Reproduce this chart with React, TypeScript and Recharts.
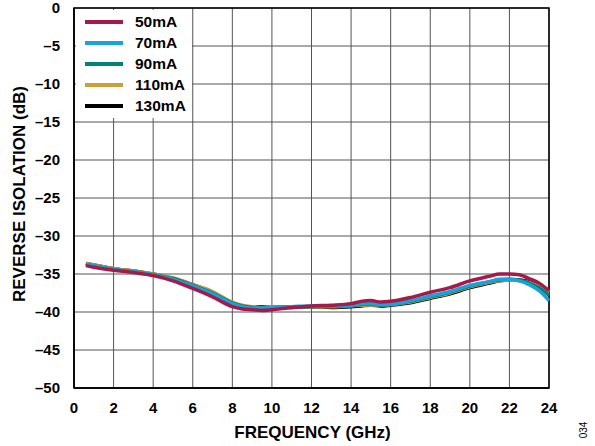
import { LineChart, Line, XAxis, YAxis, CartesianGrid, ReferenceArea } from "recharts";

const freqs = [0.6, 1, 2, 3, 4, 5, 6, 7, 8, 8.5, 9, 9.5, 10, 11, 12, 13, 14, 14.5, 15, 15.5, 16, 17, 18, 19, 20, 21, 21.5, 22, 22.5, 23, 23.5, 24];

const ma50 = [-33.9, -34.1, -34.5, -34.8, -35.2, -35.9, -36.9, -38.0, -39.3, -39.6, -39.7, -39.8, -39.7, -39.4, -39.2, -39.1, -38.9, -38.6, -38.5, -38.7, -38.6, -38.1, -37.4, -36.8, -35.9, -35.3, -35.0, -35.0, -35.1, -35.6, -36.2, -37.2];
const ma70 = [-33.7, -33.9, -34.4, -34.7, -35.1, -35.7, -36.6, -37.6, -38.9, -39.3, -39.5, -39.5, -39.4, -39.3, -39.2, -39.2, -39.1, -38.9, -38.9, -39.0, -39.0, -38.5, -37.9, -37.3, -36.5, -36.0, -35.7, -35.7, -35.9, -36.4, -37.2, -38.5];
const ma90 = [-33.7, -33.9, -34.4, -34.7, -35.1, -35.6, -36.5, -37.5, -38.8, -39.2, -39.4, -39.5, -39.4, -39.3, -39.3, -39.2, -39.2, -39.0, -39.0, -39.1, -39.0, -38.6, -38.0, -37.4, -36.6, -36.0, -35.8, -35.7, -35.8, -36.2, -36.8, -37.8];
const ma110 = [-33.6, -33.8, -34.3, -34.6, -35.0, -35.5, -36.4, -37.3, -38.7, -39.1, -39.3, -39.4, -39.3, -39.3, -39.3, -39.3, -39.2, -39.1, -39.1, -39.1, -39.0, -38.7, -38.1, -37.5, -36.7, -36.1, -35.9, -35.8, -35.9, -36.1, -36.6, -37.4];
const ma130 = [-33.6, -33.8, -34.3, -34.6, -35.0, -35.6, -36.4, -37.4, -38.8, -39.2, -39.4, -39.3, -39.3, -39.4, -39.3, -39.4, -39.3, -39.2, -39.1, -39.2, -39.1, -38.8, -38.2, -37.6, -36.8, -36.2, -35.9, -35.8, -35.8, -36.0, -36.5, -37.2];

const xTicks = [0, 2, 4, 6, 8, 10, 12, 14, 16, 18, 20, 22, 24];
const yTicks = [0, -5, -10, -15, -20, -25, -30, -35, -40, -45, -50];

const series = [
  { key: "ma50", name: "50mA", color: "#A6194B", values: ma50 },
  { key: "ma70", name: "70mA", color: "#1BA1DB", values: ma70 },
  { key: "ma90", name: "90mA", color: "#00817A", values: ma90 },
  { key: "ma110", name: "110mA", color: "#C9A03A", values: ma110 },
  { key: "ma130", name: "130mA", color: "#000000", values: ma130 },
];

const data = freqs.map((f, i) => {
  const row: Record<string, number> = { f };
  series.forEach((s) => (row[s.key] = s.values[i]));
  return row;
});

const font = "'Liberation Sans', Arial, sans-serif";
const fmtY = (v: number) => (v < 0 ? `\u2013${Math.abs(v)}` : `${v}`);

export default function App() {
  return (
    <div style={{ position: "absolute", left: 0, top: 0, width: 595, height: 446, background: "#fff", fontFamily: font }}>
      <LineChart width={595} height={446} data={data} margin={{ top: 8, right: 46, left: 14, bottom: 28 }}>
        <CartesianGrid stroke="#555" strokeWidth={1} />
        <XAxis
          dataKey="f"
          type="number"
          domain={[0, 24]}
          ticks={xTicks}
          interval={0}
          height={30}
          tickLine={false}
          axisLine={{ stroke: "#000", strokeWidth: 1.5 }}
          tickMargin={8}
          tick={{ fontSize: 15, fontWeight: 700, fill: "#000", fontFamily: font }}
        />
        <YAxis
          type="number"
          domain={[-50, 0]}
          ticks={yTicks}
          interval={0}
          width={60}
          tickFormatter={fmtY}
          tickLine={false}
          axisLine={{ stroke: "#000", strokeWidth: 1.5 }}
          tickMargin={8}
          tick={{ fontSize: 15, fontWeight: 700, fill: "#000", fontFamily: font }}
        />
        <ReferenceArea x1={0} x2={24} y1={-50} y2={0} fill="none" stroke="#000" strokeWidth={1.5} ifOverflow="visible" />
        {[...series].reverse().map((s) => (
          <Line
            key={s.key}
            dataKey={s.key}
            name={s.name}
            stroke={s.color}
            strokeWidth={3.5}
            dot={false}
            type="monotone"
            isAnimationActive={false}
          />
        ))}
      </LineChart>
      <div
        style={{
          position: "absolute",
          left: 76,
          top: 10,
          width: 116,
          height: 108,
          background: "#fff",
          fontWeight: 700,
          fontSize: 15.5,
          paddingTop: 1,
          boxSizing: "border-box",
        }}
      >
        {series.map((s) => (
          <div key={s.key} style={{ display: "flex", alignItems: "center", height: 21 }}>
            <div style={{ width: 38, height: 4, background: s.color, marginLeft: 9, marginRight: 12 }} />
            <span>{s.name}</span>
          </div>
        ))}
      </div>
      <div style={{ position: "absolute", left: 0, width: 625, top: 423, textAlign: "center", fontSize: 17, fontWeight: 700 }}>
        FREQUENCY (GHz)
      </div>
      <div
        style={{
          position: "absolute",
          left: 20,
          top: 194,
          transform: "translate(-50%, -50%) rotate(-90deg)",
          whiteSpace: "nowrap",
          fontSize: 17,
          fontWeight: 700,
        }}
      >
        REVERSE ISOLATION (dB)
      </div>
      <div
        style={{
          position: "absolute",
          left: 583,
          top: 430,
          transform: "translate(-50%, -50%) rotate(-90deg)",
          fontSize: 10,
        }}
      >
        034
      </div>
    </div>
  );
}
